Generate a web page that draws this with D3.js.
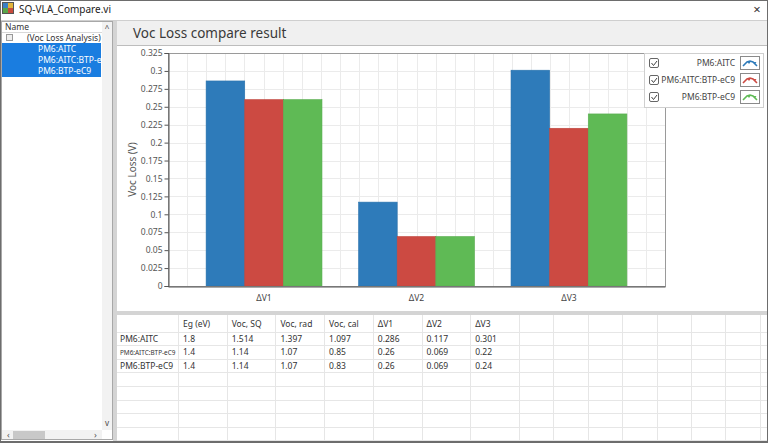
<!DOCTYPE html>
<html>
<head>
<meta charset="utf-8">
<script src="https://cdn.jsdelivr.net/npm/d3@7"></script>
<style>
  body { margin: 0; background: #fff; }
  svg { display: block; font-family: "Noto Sans", "DejaVu Sans", sans-serif; }
</style>
</head>
<body>
<div class="canvas"></div>
<script>
// chart data
const groups = ['ΔV1', 'ΔV2', 'ΔV3'];
const seriesNames = ['PM6:AITC', 'PM6:AITC:BTP-eC9', 'PM6:BTP-eC9'];
const aitc = [0.286, 0.117, 0.301];
const aitcBtp = [0.26, 0.069, 0.22];
const btp = [0.26, 0.069, 0.24];
const yTicks = [0, 0.025, 0.05, 0.075, 0.1, 0.125, 0.15, 0.175, 0.2, 0.225, 0.25, 0.275, 0.3, 0.325];
const colours = ['#2e7bba', '#cc4a42', '#5fba55'];

// table data
const tableCols = ['Eg (eV)', 'Voc, SQ', 'Voc, rad', 'Voc, cal', 'ΔV1', 'ΔV2', 'ΔV3'];
const tableRows = ['PM6:AITC', 'PM6:AITC:BTP-eC9', 'PM6:BTP-eC9'];
const egVals = ['1.8', '1.4', '1.4'];
const vocSQ = ['1.514', '1.14', '1.14'];
const vocRad = ['1.397', '1.07', '1.07'];
const vocCal = ['1.097', '0.85', '0.83'];
const dv1 = ['0.286', '0.26', '0.26'];
const dv2 = ['0.117', '0.069', '0.069'];
const dv3 = ['0.301', '0.22', '0.24'];

const W = 768, H = 443;
const plot = { left: 168, right: 665, top: 53, bottom: 286 };

const svg = d3.select('.canvas')
  .append('svg')
  .attr('width', W)
  .attr('height', H);

// window frame
svg.append('rect').attr('width', W).attr('height', H).attr('fill', '#fff');
svg.append('rect').attr('x', 3).attr('y', 3).attr('width', 5).attr('height', 5).attr('fill', '#3a7fc4');
svg.append('rect').attr('x', 8).attr('y', 3).attr('width', 5).attr('height', 5).attr('fill', '#e2b43a');
svg.append('rect').attr('x', 3).attr('y', 8).attr('width', 5).attr('height', 5).attr('fill', '#5aa54a');
svg.append('rect').attr('x', 8).attr('y', 8).attr('width', 5).attr('height', 5).attr('fill', '#c94b3c');
svg.append('rect').attr('x', 2.5).attr('y', 2.5).attr('width', 11).attr('height', 11)
  .attr('fill', 'none').attr('stroke', '#555');
svg.append('text').attr('x', 19).attr('y', 13).attr('font-size', 10).attr('fill', '#222')
  .text('SQ-VLA_Compare.vi');
svg.append('text').attr('x', 757).attr('y', 14).attr('font-size', 13).attr('text-anchor', 'middle')
  .attr('fill', '#333').text('×');
svg.append('line').attr('x1', 0).attr('x2', W).attr('y1', 20.5).attr('y2', 20.5).attr('stroke', '#cfcfcf');

// left tree panel
const left = svg.append('g');
left.append('rect').attr('x', 1.5).attr('y', 21.5).attr('width', 111).attr('height', 418)
  .attr('fill', '#fff').attr('stroke', '#a8a8a8');
left.append('rect').attr('x', 102).attr('y', 22).attr('width', 10).attr('height', 408).attr('fill', '#f2f2f2');
left.append('rect').attr('x', 2).attr('y', 430).attr('width', 100).attr('height', 9).attr('fill', '#f2f2f2');
left.append('rect').attr('x', 13).attr('y', 431).attr('width', 32).attr('height', 8).attr('fill', '#c8c8c8');
left.append('text').attr('x', 7).attr('y', 438).attr('font-size', 9).attr('fill', '#555').text('‹');
left.append('text').attr('x', 94).attr('y', 438).attr('font-size', 9).attr('fill', '#555').text('›');
left.append('text').attr('x', 107).attr('y', 31).attr('font-size', 8).attr('text-anchor', 'middle')
  .attr('fill', '#444').text('^');
left.append('text').attr('x', 107).attr('y', 426).attr('font-size', 8).attr('text-anchor', 'middle')
  .attr('fill', '#444').text('v');
left.append('text').attr('x', 5).attr('y', 30).attr('font-size', 8.5).attr('fill', '#333').text('Name');
left.append('line').attr('x1', 2).attr('x2', 102).attr('y1', 32.5).attr('y2', 32.5).attr('stroke', '#d8d8d8');
left.append('rect').attr('x', 6.5).attr('y', 34.5).attr('width', 6).attr('height', 6)
  .attr('fill', '#eee').attr('stroke', '#999');
left.append('text').attr('x', 27).attr('y', 41).attr('font-size', 8.5).attr('fill', '#333')
  .text('(Voc Loss Analysis)');
left.append('rect').attr('x', 2).attr('y', 43).attr('width', 99).attr('height', 34).attr('fill', '#1a7de0');
left.append('clipPath').attr('id', 'treeClip')
  .append('rect').attr('x', 2).attr('y', 22).attr('width', 99).attr('height', 400);
left.append('g').attr('clip-path', 'url(#treeClip)')
  .selectAll('text')
  .data(seriesNames)
  .enter()
  .append('text')
    .attr('x', 38)
    .attr('y', (d, i) => 52 + i * 11)
    .attr('font-size', 8.5)
    .attr('fill', '#fff')
    .text(d => d);

// separator between panels
svg.append('rect').attr('x', 113).attr('y', 21).attr('width', 4).attr('height', 420).attr('fill', '#d4d4d4');

// header band
svg.append('rect').attr('x', 117).attr('y', 21).attr('width', 651).attr('height', 24).attr('fill', '#f0f0f0');
svg.append('line').attr('x1', 117).attr('x2', W).attr('y1', 45.5).attr('y2', 45.5).attr('stroke', '#bdbdbd');
svg.append('text').attr('x', 133).attr('y', 38).attr('font-size', 13.5).attr('fill', '#3a3a3a')
  .text('Voc Loss compare result');

// scales
const y = d3.scaleLinear().domain([0, 0.325]).range([plot.bottom, plot.top]);
const x0 = d3.scaleBand().domain(groups).range([plot.left, plot.right])
  .paddingInner(0.24).paddingOuter(0.25);
const x1 = d3.scaleBand().domain(seriesNames).range([0, x0.bandwidth()]);
const colour = d3.scaleOrdinal().domain(seriesNames).range(colours);
const gridX = d3.scaleLinear().domain([0, 26]).range([plot.left, plot.right]);

// gridlines
const grid = svg.append('g');
grid.selectAll('.hgrid')
  .data(yTicks)
  .enter()
  .append('line')
    .attr('x1', plot.left).attr('x2', plot.right)
    .attr('y1', d => Math.round(y(d)) + 0.5).attr('y2', d => Math.round(y(d)) + 0.5)
    .attr('stroke', '#ebebeb');
grid.selectAll('.vgrid')
  .data(d3.range(1, 26))
  .enter()
  .append('line')
    .attr('y1', plot.top).attr('y2', plot.bottom)
    .attr('x1', d => Math.round(gridX(d)) + 0.5).attr('x2', d => Math.round(gridX(d)) + 0.5)
    .attr('stroke', '#ebebeb');

// bars
const barData = groups.map((g, i) => ({
  group: g,
  values: [
    { name: seriesNames[0], value: aitc[i] },
    { name: seriesNames[1], value: aitcBtp[i] },
    { name: seriesNames[2], value: btp[i] }
  ]
}));

svg.append('g')
  .selectAll('g')
  .data(barData)
  .enter()
  .append('g')
    .attr('transform', d => `translate(${x0(d.group)}, 0)`)
  .selectAll('rect')
  .data(d => d.values)
  .enter()
  .append('rect')
    .attr('x', d => x1(d.name))
    .attr('y', d => y(d.value))
    .attr('width', x1.bandwidth())
    .attr('height', d => y(0) - y(d.value))
    .attr('fill', d => colour(d.name))
    .attr('stroke', d => d3.color(colour(d.name)).darker(0.2))
    .attr('stroke-width', 0.6);

// plot frame
svg.append('rect')
  .attr('x', plot.left + 0.5).attr('y', plot.top + 0.5)
  .attr('width', plot.right - plot.left).attr('height', plot.bottom - plot.top)
  .attr('fill', 'none').attr('stroke', '#9a9a9a');

// y axis
const yAxis = svg.append('g')
  .attr('transform', `translate(${plot.left + 0.5}, 0)`)
  .call(d3.axisLeft(y).tickValues(yTicks).tickSize(4).tickPadding(2).tickFormat(d => String(d)));
yAxis.select('.domain').attr('stroke', '#555');
yAxis.selectAll('.tick line').attr('stroke', '#555');
yAxis.selectAll('.tick text')
  .attr('font-size', 8.5).attr('fill', '#555')
  .attr('font-family', '"Noto Sans", sans-serif');

svg.append('text')
  .attr('transform', `translate(136, ${(plot.top + plot.bottom) / 2}) rotate(-90)`)
  .attr('text-anchor', 'middle')
  .attr('font-size', 10)
  .attr('fill', '#555')
  .text('Voc Loss (V)');

// x axis
const xAxis = svg.append('g')
  .attr('transform', `translate(0, ${plot.bottom + 0.5})`)
  .call(d3.axisBottom(x0).tickSize(0).tickPadding(8));
xAxis.select('.domain').attr('stroke', '#555');
xAxis.selectAll('.tick text')
  .attr('font-size', 8.5).attr('fill', '#444')
  .attr('font-family', '"Noto Sans", sans-serif');

// legend
const lg = svg.append('g');
lg.append('rect').attr('x', 644.5).attr('y', 53.5).attr('width', 119).attr('height', 54)
  .attr('fill', '#fff').attr('stroke', '#cfcfcf');
const legend = lg.selectAll('.legend')
  .data(seriesNames)
  .enter()
  .append('g')
    .attr('class', 'legend')
    .attr('transform', (d, i) => `translate(0, ${63 + i * 17})`);

legend.append('rect')
  .attr('x', 649.5).attr('y', -4.5).attr('width', 9).attr('height', 9).attr('rx', 1.5)
  .attr('fill', '#fff').attr('stroke', '#666');
legend.append('path')
  .attr('d', 'M651.5,0 L653.5,2.5 L657,-2')
  .attr('fill', 'none').attr('stroke', '#444').attr('stroke-width', 1);
legend.append('text')
  .attr('x', 735).attr('y', 3)
  .attr('text-anchor', 'end')
  .attr('font-size', 8.5)
  .attr('fill', '#444')
  .text(d => d);
legend.append('rect')
  .attr('x', 740.5).attr('y', -6.5).attr('width', 19).attr('height', 13)
  .attr('fill', '#fff').attr('stroke', '#8a8a8a');
legend.append('path')
  .attr('d', 'M743,3 L747,-1 L750,-2 L753,-1 L757,3')
  .attr('fill', 'none')
  .attr('stroke', colour)
  .attr('stroke-width', 1.6);
legend.append('path')
  .attr('d', 'M747.5,-1 l1.5,2 l1.5,-2 z M753.5,-1 l1.5,2 l1.5,-2 z')
  .attr('fill', colour);

// lower separator
svg.append('rect').attr('x', 117).attr('y', 311).attr('width', 651).attr('height', 4).attr('fill', '#d4d4d4');

// table
const tbl = svg.append('g');
const colLines = d3.range(0, 8).map(i => 178 + i * 48.7)
  .concat(d3.range(1, 8).map(i => 519 + i * 34.4));
const rowLines = d3.range(0, 9).map(i => 331.5 + i * 13.6);
tbl.selectAll('.cl')
  .data(colLines)
  .enter()
  .append('line')
    .attr('x1', d => Math.round(d) + 0.5).attr('x2', d => Math.round(d) + 0.5)
    .attr('y1', 315).attr('y2', 441)
    .attr('stroke', '#e6e6e6');
tbl.selectAll('.rl')
  .data(rowLines)
  .enter()
  .append('line')
    .attr('x1', 117).attr('x2', W)
    .attr('y1', d => Math.round(d) + 0.5).attr('y2', d => Math.round(d) + 0.5)
    .attr('stroke', '#e6e6e6');

tbl.selectAll('.hdr')
  .data(tableCols)
  .enter()
  .append('text')
    .attr('x', (d, i) => colLines[i] + 5)
    .attr('y', 327)
    .attr('font-size', 8.5)
    .attr('fill', '#333')
    .text(d => d);

// row headers: squeeze long names into the narrow first column
tbl.append('g')
  .selectAll('text')
  .data(tableRows)
  .enter()
  .append('text')
    .attr('x', 120)
    .attr('y', (d, i) => 341.5 + i * 13.6)
    .attr('font-size', 8.5)
    .attr('fill', '#333')
    .text(d => d)
    .each(function() {
      if (this.getComputedTextLength() > 56) {
        d3.select(this).attr('font-size', 6.4);
      }
    });

const tableCells = [egVals, vocSQ, vocRad, vocCal, dv1, dv2, dv3];
tableCells.forEach((col, c) => {
  tbl.selectAll(`.c${c}`)
    .data(col)
    .enter()
    .append('text')
      .attr('x', colLines[c] + 5)
      .attr('y', (d, i) => 341.5 + i * 13.6)
      .attr('font-size', 8.5)
      .attr('fill', '#333')
      .text(d => d);
});

// outer border
svg.append('rect').attr('x', 0.5).attr('y', 0.5).attr('width', W - 1).attr('height', H - 1)
  .attr('fill', 'none').attr('stroke', '#6d6d6d');
svg.append('line').attr('x1', 0).attr('x2', W).attr('y1', 441.5).attr('y2', 441.5).attr('stroke', '#6d6d6d');
</script>
</body>
</html>
